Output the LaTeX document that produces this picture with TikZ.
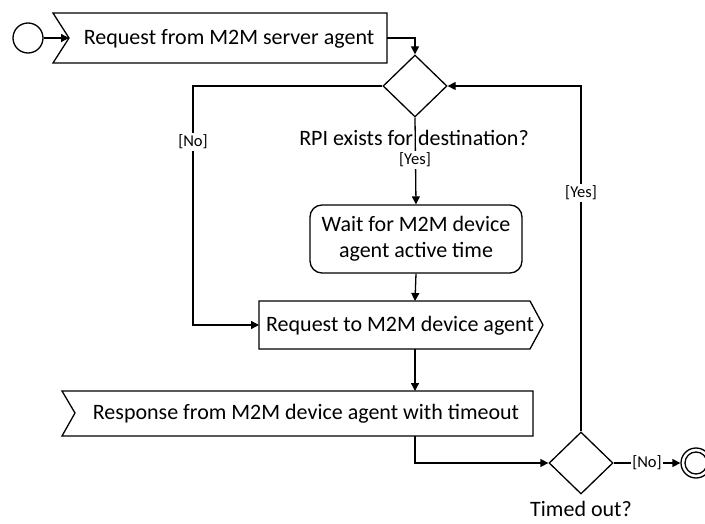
\documentclass[tikz,border=0pt]{standalone}
\usepackage{fontspec}
\setmainfont{Carlito}
\usetikzlibrary{arrows.meta,calc,shapes.geometric}
\begin{document}
\begin{tikzpicture}[x=1pt,y=-1pt,
  line width=1.3pt,
  >={Triangle[length=8pt,width=8pt]},
  txt/.style={font=\fontsize{22}{26}\selectfont, inner sep=0pt, align=center},
  lbl/.style={font=\fontsize{16.5}{19}\selectfont, fill=white, inner sep=1.5pt},
  decision/.style={draw, diamond, minimum width=64pt, minimum height=62pt, inner sep=0pt},
  waitbox/.style={draw, rounded corners=12pt, minimum width=212pt, minimum height=68pt, inner sep=0pt, align=center, font=\fontsize{22}{26}\selectfont}
]
\useasboundingbox (0,0) rectangle (705,524);

% start
\node[draw, circle, minimum size=30pt, inner sep=0pt] (start) at (28,38) {};

% receive signal 1
\draw (53,13) -- (387,13) -- (387,63) -- (53,63) -- (69,38) -- cycle;
\coordinate (b1in) at (69,38);
\coordinate (b1out) at (387,38);
\node[txt] (b1) at (229,39) {Request from M2M server agent};

% decision 1
\node[decision] (d1) at (415,86) {};
\node[txt] (q1) at (414,138) {RPI exists for destination?};

% wait
\node[waitbox] (wait) at (416,239) {Wait for M2M device\\agent active time};

% send signal
\draw (259,301) -- (530,301) -- (543,325) -- (530,349) -- (259,349) -- cycle;
\coordinate (reqin) at (259,325);
\coordinate (reqtop) at (415,301);
\coordinate (reqbot) at (415,349);
\node[txt] (req) at (400,326) {Request to M2M device agent};

% receive response
\draw (62,391) -- (533,391) -- (533,436) -- (62,436) -- (75,413) -- cycle;
\coordinate (resptop) at (415,391);
\coordinate (respbot) at (415,436);
\node[txt] (resp) at (306,414) {Response from M2M device agent with timeout};

% decision 2
\node[decision] (d2) at (581,463) {};
\node[txt] (q2) at (581,509) {Timed out?};

% end
\node[draw, circle, minimum size=30pt, inner sep=0pt] (end) at (696,463) {};
\node[draw, circle, minimum size=22pt, inner sep=0pt] (endin) at (696,463) {};

% connectors
\coordinate (nb1) at (193,86);
\coordinate (nb2) at (193,325);
\coordinate (yb) at (581,86);
\draw[->] (start) -- (b1in);
\draw[->] (b1out) -| (d1.north);
\draw[->] (d1.west) -- (nb1) -- (nb2) -- (reqin);
\draw[->] (d1.south) -- (wait.north);
\draw[->] (wait.south) -- (reqtop);
\draw[->] (reqbot) -- (resptop);
\draw[->] (respbot) |- (d2.west);
\draw[->] (d2.north) -- (yb) -- (d1.east);
\draw[->] (d2.east) -- (end.west);

% labels
\node[lbl] (l1) at (193,142) {[No]};
\node[lbl] (l2) at (415,160) {[Yes]};
\node[lbl] (l3) at (581,193) {[Yes]};
\node[lbl] (l4) at (647,463) {[No]};
\end{tikzpicture}
\end{document}
